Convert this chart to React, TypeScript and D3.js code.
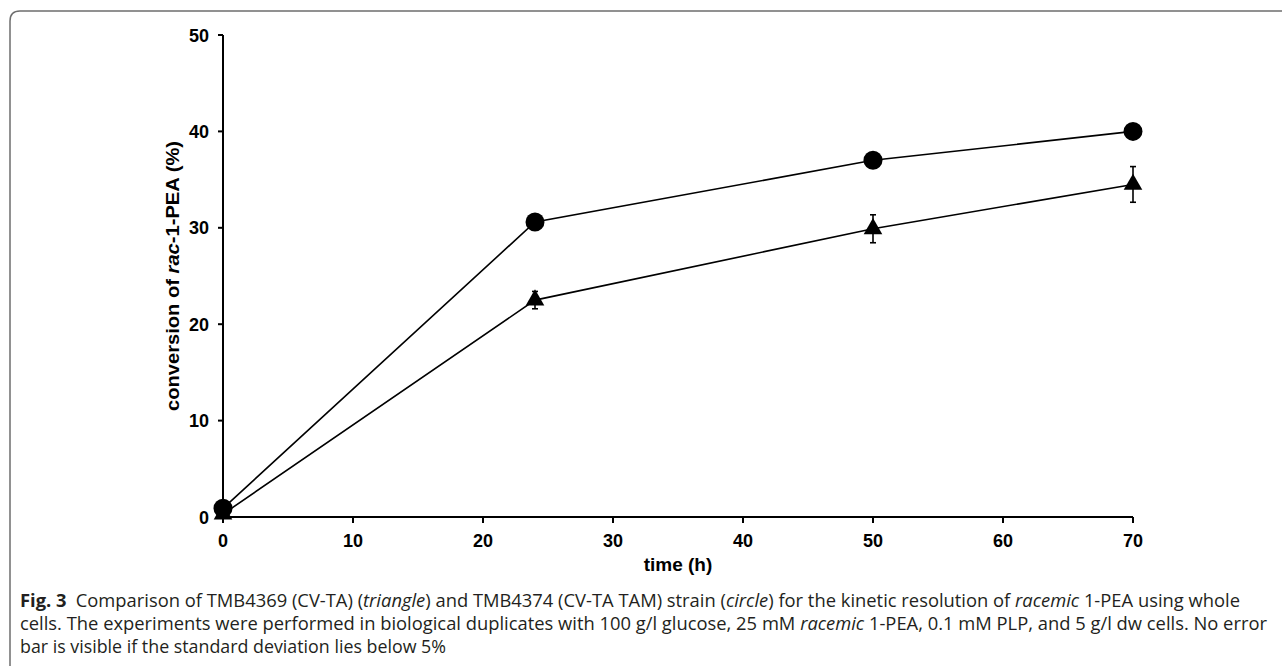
import * as d3 from 'd3';
import React from 'react';

// sampling times (h)
const times = [0, 24, 50, 70];
// TMB4374 (CV-TA TAM), circles
const circleMean = [0.9, 30.6, 37.0, 40.0];
const circleSd = [0.3, 0.7, 0.3, 0.3];
// TMB4369 (CV-TA), triangles
const triMean = [0.3, 22.5, 29.9, 34.5];
const triSd = [0.2, 0.9, 1.45, 1.85];

const xTicks = [0, 10, 20, 30, 40, 50, 60, 70];
const yTicks = [0, 10, 20, 30, 40, 50];

const W = 1282;
const H = 666;
const plot = {left: 223, right: 1133, top: 35, bottom: 517};

const x = d3.scaleLinear().domain([0, 70]).range([plot.left, plot.right]);
const y = d3.scaleLinear().domain([0, 50]).range([plot.bottom, plot.top]);

const axisFont = '"Liberation Sans", Arial, sans-serif';
const capFont = '"Open Sans", "Noto Sans", sans-serif';

const line = d3.line<[number, number]>()
  .x(d => x(d[0]))
  .y(d => y(d[1]));

const triPath = d3.symbol().type(d3.symbolTriangle).size(150)();

function ErrorBars({means, sds}: {means: number[], sds: number[]}) {
  return (
    <g stroke="#000" strokeWidth={1.6}>
      {times.map((t, i) => {
        const cx = x(t);
        const y1 = y(means[i] + sds[i]);
        const y2 = y(means[i] - sds[i]);
        return (
          <g key={i}>
            <line x1={cx} x2={cx} y1={y1} y2={y2} />
            <line x1={cx - 3} x2={cx + 3} y1={y1} y2={y1} />
            <line x1={cx - 3} x2={cx + 3} y1={y2} y2={y2} />
          </g>
        );
      })}
    </g>
  );
}

export default function App() {
  const circPts = times.map((t, i) => [t, circleMean[i]] as [number, number]);
  const triPts = times.map((t, i) => [t, triMean[i]] as [number, number]);

  return (
    <svg width={W} height={H} style={{position: 'absolute', left: 0, top: 0, background: '#fff'}}>
      {/* frame: top and left rule with rounded corner */}
      <path d={`M10,${H} L10,21 Q10,11 20,11 L${W},11`} fill="none" stroke="#6e6e6e" strokeWidth={1.5} />

      {/* axes */}
      <g stroke="#000" strokeWidth={2} fill="none">
        <line x1={plot.left} x2={plot.left} y1={plot.top} y2={plot.bottom} />
        <line x1={plot.left} x2={plot.right} y1={plot.bottom} y2={plot.bottom} />
        {yTicks.map(v => (
          <line key={v} x1={plot.left - 5} x2={plot.left} y1={y(v)} y2={y(v)} />
        ))}
        {xTicks.map(v => (
          <line key={v} x1={x(v)} x2={x(v)} y1={plot.bottom} y2={plot.bottom + 6} />
        ))}
      </g>
      <g fontFamily={axisFont} fontWeight="bold" fontSize={18} fill="#000">
        {yTicks.map(v => (
          <text key={v} x={plot.left - 14} y={y(v) + 6.5} textAnchor="end">{v}</text>
        ))}
        {xTicks.map(v => (
          <text key={v} x={x(v)} y={plot.bottom + 30} textAnchor="middle">{v}</text>
        ))}
        <text x={(plot.left + plot.right) / 2} y={571} textAnchor="middle" fontSize={19}>time (h)</text>
        <text transform={`translate(179, ${(plot.top + plot.bottom) / 2}) rotate(-90)`} textAnchor="middle"
          fontSize={19} textLength={270} lengthAdjust="spacingAndGlyphs">
          conversion of <tspan fontStyle="italic">rac</tspan>-1-PEA (%)
        </text>
      </g>

      {/* series */}
      <path d={line(circPts) || ''} fill="none" stroke="#000" strokeWidth={1.6} />
      <path d={line(triPts) || ''} fill="none" stroke="#000" strokeWidth={1.6} />
      <ErrorBars means={circleMean} sds={circleSd} />
      <ErrorBars means={triMean} sds={triSd} />
      {circPts.map((d, i) => (
        <circle key={i} cx={x(d[0])} cy={y(d[1])} r={9.5} fill="#000" />
      ))}
      {triPts.map((d, i) => (
        <path key={i} d={triPath || ''} transform={`translate(${x(d[0])}, ${y(d[1])})`} fill="#000" />
      ))}

      {/* caption */}
      <g fontFamily={capFont} fontSize={18.5} fill="#231f20">
        <text x={20} y={607} textLength={1220} lengthAdjust="spacingAndGlyphs">
          <tspan fontWeight="bold">Fig. 3</tspan>{'\u2002'}Comparison of TMB4369 (CV-TA) (<tspan fontStyle="italic">triangle</tspan>) and TMB4374 (CV-TA TAM) strain (<tspan fontStyle="italic">circle</tspan>) for the kinetic resolution of <tspan fontStyle="italic">racemic</tspan> 1-PEA using whole
        </text>
        <text x={20} y={630} textLength={1247} lengthAdjust="spacingAndGlyphs">
          cells. The experiments were performed in biological duplicates with 100 g/l glucose, 25 mM <tspan fontStyle="italic">racemic</tspan> 1-PEA, 0.1 mM PLP, and 5 g/l dw cells. No error
        </text>
        <text x={20} y={653} textLength={426} lengthAdjust="spacingAndGlyphs">
          bar is visible if the standard deviation lies below 5%
        </text>
      </g>
    </svg>
  );
}
